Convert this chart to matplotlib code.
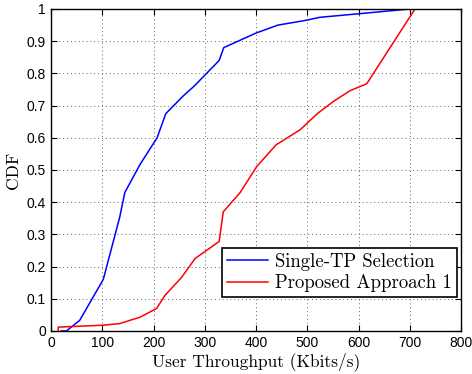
import matplotlib
matplotlib.use("Agg")
import matplotlib.pyplot as plt

matplotlib.rcParams.update({
    "font.family": ["Liberation Sans", "DejaVu Sans"],
    "font.size": 10,
    "axes.formatter.use_mathtext": False,
    "axes.unicode_minus": False,
})

SERIF = ["cmr10", "DejaVu Serif"]

# Single-TP Selection CDF (throughput in Kbits/s, CDF)
single_x = [20, 30, 56, 102, 134, 144, 174, 207, 224, 258, 279, 328, 337, 401, 443, 498, 524, 599, 700]
single_y = [0.0, 0.0, 0.033, 0.16, 0.353, 0.43, 0.518, 0.60, 0.675, 0.73, 0.76, 0.84, 0.88, 0.926, 0.95, 0.965, 0.974, 0.985, 1.0]

# Proposed Approach 1 CDF
prop_x = [14, 14, 102, 134, 174, 206, 222, 255, 281, 328, 336, 369, 401, 439, 486, 521, 551, 583, 616, 710]
prop_y = [0.0, 0.012, 0.018, 0.023, 0.043, 0.07, 0.11, 0.167, 0.225, 0.278, 0.37, 0.43, 0.51, 0.578, 0.625, 0.677, 0.713, 0.746, 0.768, 1.0]

x_ticks = [0, 100, 200, 300, 400, 500, 600, 700, 800]
y_ticks = [0, 0.1, 0.2, 0.3, 0.4, 0.5, 0.6, 0.7, 0.8, 0.9, 1]
y_tick_labels = ["0", "0.1", "0.2", "0.3", "0.4", "0.5", "0.6", "0.7", "0.8", "0.9", "1"]

fig = plt.figure(figsize=(4.72, 3.74), dpi=100)
ax = fig.add_axes([0.108, 0.115, 0.869, 0.861])

ax.plot(single_x, single_y, color="blue", lw=1.1, label="Single-TP Selection")
ax.plot(prop_x, prop_y, color="red", lw=1.1, label="Proposed Approach 1")

ax.set_xlim(0, 800)
ax.set_ylim(0, 1)
ax.set_xticks(x_ticks)
ax.set_yticks(y_ticks)
ax.set_yticklabels(y_tick_labels)
ax.tick_params(direction="in", top=True, right=True, length=4, width=0.8, labelsize=10)
ax.grid(True, linestyle=(0, (1, 3)), color="0.4", lw=0.7)
for s in ax.spines.values():
    s.set_linewidth(1.0)

ax.set_xlabel("User Throughput (Kbits/s)", family=SERIF, fontsize=12.5, labelpad=2)
ax.set_ylabel("CDF", family=SERIF, fontsize=12.5, labelpad=4)

leg = ax.legend(loc="lower right", bbox_to_anchor=(0.99, 0.105), borderaxespad=0,
                fancybox=False, framealpha=1, edgecolor="black",
                prop={"family": SERIF, "size": 13.5}, handlelength=2.2,
                handletextpad=0.4, borderpad=0.25, labelspacing=0.2)
leg.get_frame().set_linewidth(1.2)

fig.savefig("out.png", dpi=100)
